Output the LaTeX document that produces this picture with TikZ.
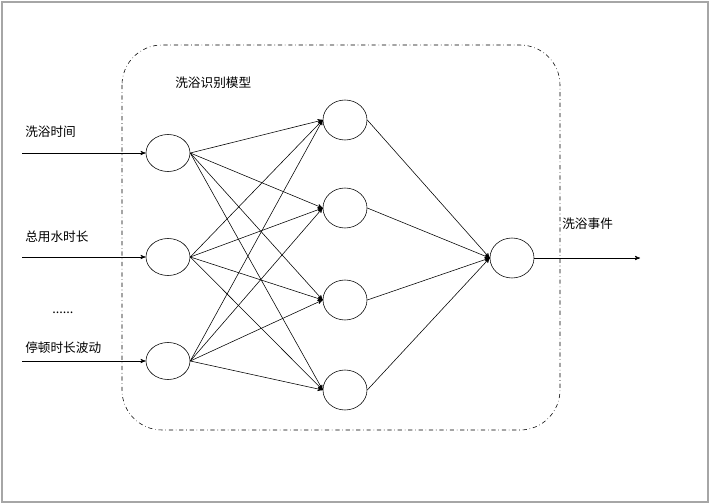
\documentclass[tikz,border=0pt]{standalone}
\usepackage{fontspec}
\setmainfont{Noto Sans CJK SC}
\usetikzlibrary{arrows,shapes,positioning}
\tikzset{style={>=stealth'}}
\tikzset{unit/.style={ellipse,fill=white,draw=black,minimum width=44\px,minimum height=37\px,inner sep=0mm}}
\tikzset{label/.style={align=left,font=\small,anchor=west,inner sep=0mm}}
\newcommand{\px}{*0.025cm}
\begin{document}
\begin{tikzpicture}[x=0.025cm,y=-0.025cm]
    \useasboundingbox (0,0) rectangle (710,504);
    \draw[gray!70,line width=1.2pt] (2,2) rectangle (708,502);
    \draw[dash dot,rounded corners=40\px] (122,45) rectangle (560,430);
    \node[label] (title) at (175,83) {洗浴识别模型};

    \node[unit] (i1) at (168,153) {};
    \node[unit] (i2) at (168,257) {};
    \node[unit] (i3) at (168,361) {};
    \node[unit,minimum height=40\px] (h1) at (345,120) {};
    \node[unit,minimum height=40\px] (h2) at (345,208) {};
    \node[unit,minimum height=40\px] (h3) at (345,300) {};
    \node[unit,minimum height=40\px] (h4) at (345,390) {};
    \node[unit,minimum height=40\px] (o) at (512,258) {};

    \coordinate (a1) at (22,153);
    \coordinate (a2) at (22,257);
    \coordinate (a3) at (22,361);
    \coordinate (out) at (640,258);

    \foreach \i in {1,2,3} {
        \draw[->] (a\i) -- (i\i);
        \foreach \h in {1,2,3,4}
            \draw[->] (i\i.east) -- (h\h.west);
    }
    \foreach \h in {1,2,3,4}
        \draw[->] (h\h.east) -- (o.west);
    \draw[->] (o) -- (out);

    \node[label] (l1) at (25,132) {洗浴时间};
    \node[label] (l2) at (25,237) {总用水时长};
    \node[label] (l3) at (52,313) {......};
    \node[label] (l4) at (25,348) {停顿时长波动};
    \node[label] (lo) at (562,224) {洗浴事件};
\end{tikzpicture}
\end{document}
